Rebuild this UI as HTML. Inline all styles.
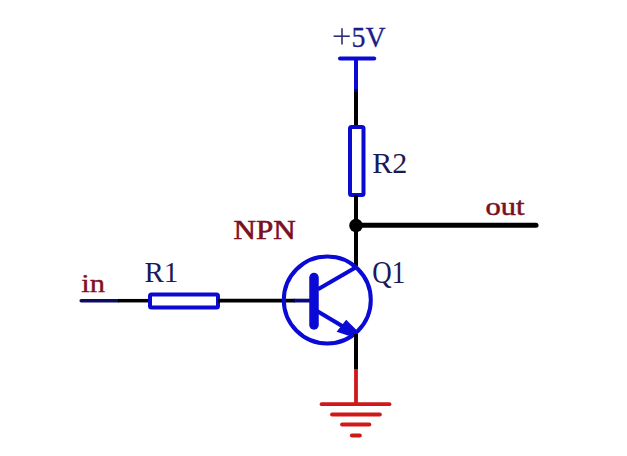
<!DOCTYPE html>
<html><head><meta charset="utf-8">
<style>
html,body{margin:0;padding:0;background:#fff;width:627px;height:456px;overflow:hidden}
svg{display:block}
text{font-family:"Liberation Serif",serif}
</style></head>
<body>
<svg width="627" height="456" viewBox="0 0 627 456">
<!-- texts -->
<line x1="333.6" y1="36.2" x2="349.8" y2="36.2" stroke="#2e2e70" stroke-width="1.6"/>
<line x1="342" y1="28.3" x2="342" y2="44.4" stroke="#2e2e70" stroke-width="1.6"/>
<text font-size="29" fill="#1c1c8c" stroke="#1c1c8c" stroke-width="0.3" transform="translate(351.5,46.5) scale(0.96,1)">5V</text>
<text x="372.3" y="173.3" font-size="30" fill="#1a1a56">R2</text>
<text font-size="25" fill="#7a1024" stroke="#7a1024" stroke-width="0.5" transform="translate(485.5,215) scale(1.22,1)">out</text>
<text font-size="27" fill="#7a1024" stroke="#7a1024" stroke-width="0.6" transform="translate(233.5,238.7) scale(1.15,1)">NPN</text>
<text font-size="31" fill="#1a1a56" transform="translate(372.3,282.6) scale(0.87,1)">Q1</text>
<text x="144.5" y="282.1" font-size="29" fill="#1a1a56">R1</text>
<text font-size="25.5" fill="#82101e" stroke="#82101e" stroke-width="0.35" transform="translate(81.3,291.6) scale(1.2,1)">in</text>

<!-- +5V -->
<line x1="340" y1="58.4" x2="374.2" y2="58.4" stroke="#0a0ad4" stroke-width="4" stroke-linecap="round"/>
<line x1="356" y1="58" x2="356" y2="89" stroke="#0a0ad4" stroke-width="4"/>
<line x1="356" y1="89" x2="356" y2="92" stroke="#06066a" stroke-width="4"/>
<line x1="356" y1="92" x2="356" y2="127" stroke="#000" stroke-width="4"/>
<!-- R2 -->
<rect x="350" y="127" width="13.5" height="68" rx="1.5" fill="none" stroke="#0a0ad0" stroke-width="4"/>
<line x1="356" y1="195" x2="356" y2="266" stroke="#000" stroke-width="4"/>
<!-- junction + out -->
<circle cx="356" cy="225.5" r="6.8" fill="#000"/>
<line x1="356" y1="225.3" x2="536" y2="225.3" stroke="#000" stroke-width="5" stroke-linecap="round"/>
<!-- in line -->
<line x1="81.2" y1="300.7" x2="118" y2="300.7" stroke="#0c0c60" stroke-width="3.5" stroke-linecap="round"/>
<line x1="118" y1="300.7" x2="150" y2="300.7" stroke="#000" stroke-width="3.5"/>
<!-- R1 -->
<rect x="150" y="294.5" width="68" height="13" rx="1.5" fill="none" stroke="#0a0ad0" stroke-width="4"/>
<line x1="218" y1="300.6" x2="295" y2="300.6" stroke="#000" stroke-width="3.8"/>
<line x1="294" y1="300.6" x2="312" y2="300.6" stroke="#0a0a80" stroke-width="3.8"/>
<!-- transistor -->
<circle cx="327.3" cy="300" r="43.5" fill="none" stroke="#0a0ad4" stroke-width="4"/>
<line x1="314" y1="277.5" x2="314" y2="325" stroke="#0a0ad4" stroke-width="9.5" stroke-linecap="round"/>
<line x1="318" y1="289.3" x2="356" y2="267.2" stroke="#0a0ad4" stroke-width="4"/>
<line x1="317" y1="311" x2="343" y2="326.5" stroke="#0a0ad4" stroke-width="4.2"/>
<polygon points="346.2,319.8 356.5,330 357.5,336 351,336.5 336.6,331.8" fill="#0a0ad4"/>
<line x1="356" y1="334" x2="356" y2="369" stroke="#000" stroke-width="4"/>
<!-- ground -->
<line x1="356" y1="369" x2="356" y2="404" stroke="#d01818" stroke-width="3.8"/>
<line x1="321.6" y1="404.2" x2="389.5" y2="404.2" stroke="#d01818" stroke-width="3.8" stroke-linecap="round"/>
<line x1="332" y1="414.5" x2="379.9" y2="414.5" stroke="#d01818" stroke-width="3.8" stroke-linecap="round"/>
<line x1="342" y1="424.5" x2="369.4" y2="424.5" stroke="#d01818" stroke-width="3.8" stroke-linecap="round"/>
<line x1="351.8" y1="435.5" x2="359.9" y2="435.5" stroke="#d01818" stroke-width="3.8" stroke-linecap="round"/>
</svg>
</body></html>
